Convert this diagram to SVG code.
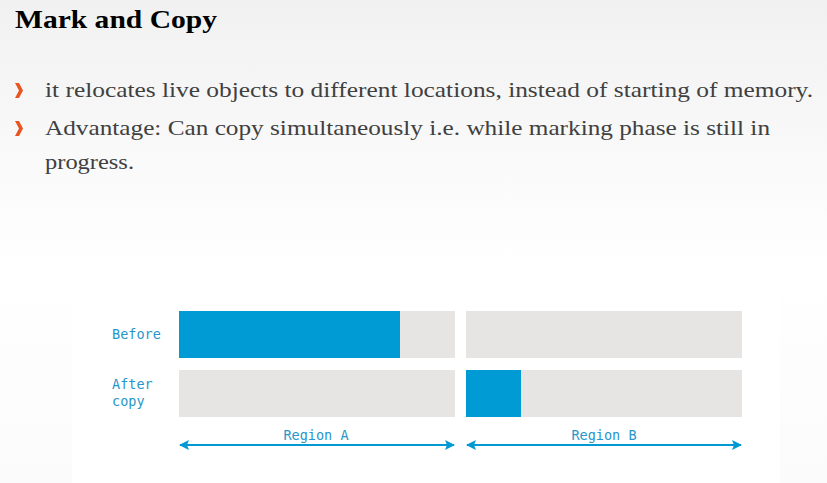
<svg xmlns="http://www.w3.org/2000/svg" width="827" height="483" viewBox="0 0 827 483">
<defs>
<linearGradient id="bg" x1="0" y1="0" x2="0" y2="1">
<stop offset="0" stop-color="#f1f1f1"/>
<stop offset="0.55" stop-color="#ffffff"/>
<stop offset="1" stop-color="#fbfbfb"/>
</linearGradient>
<marker id="ah" viewBox="0 0 10 10" refX="9" refY="5" markerWidth="10" markerHeight="10" markerUnits="userSpaceOnUse" orient="auto-start-reverse">
<path d="M0,0 L10,5 L0,10 L2,5 Z" fill="#0099d3"/>
</marker>
<style>
.title{font-family:"Liberation Serif",serif;font-weight:bold;font-size:26px;fill:#000}
.body{font-family:"Liberation Serif",serif;font-size:22px;fill:#404040}
.lbl{font-family:"DejaVu Sans Mono",monospace;font-size:13.5px;fill:#2796cc}
.gray{fill:#e6e5e4}
.blue{fill:#009bd4}
.arr{stroke:#0099d3;stroke-width:2;fill:none;marker-start:url(#ah);marker-end:url(#ah)}
.bul{fill:#ea5420}
</style>
</defs>
<rect width="827" height="483" fill="url(#bg)"/>
<rect x="72" y="265" width="708" height="218" fill="#ffffff"/>
<text class="title" x="15" y="28" textLength="202" lengthAdjust="spacingAndGlyphs">Mark and Copy</text>
<polygon class="bul" points="15,83 19,83 23,90.5 19,98 15,98 19,90.5"/>
<text class="body" x="45" y="97" textLength="768" lengthAdjust="spacingAndGlyphs">it relocates live objects to different locations, instead of starting of memory.</text>
<polygon class="bul" points="15,121 19,121 23,128.5 19,136 15,136 19,128.5"/>
<text class="body" x="45" y="135" textLength="725" lengthAdjust="spacingAndGlyphs">Advantage: Can copy simultaneously i.e. while marking phase is still in</text>
<text class="body" x="45" y="169" textLength="89" lengthAdjust="spacingAndGlyphs">progress.</text>
<g id="before">
<text class="lbl" x="112" y="339">Before</text>
<rect class="gray" x="179" y="311" width="276" height="47"/>
<rect class="blue" x="179" y="311" width="221" height="47"/>
<rect class="gray" x="466" y="311" width="276" height="47"/>
</g>
<g id="after">
<text class="lbl" x="112" y="389">After</text>
<text class="lbl" x="112" y="406">copy</text>
<rect class="gray" x="179" y="370" width="276" height="47"/>
<rect class="gray" x="466" y="370" width="276" height="47"/>
<rect class="blue" x="466" y="370" width="55" height="47"/>
</g>
<g id="connectors">
<line class="arr" x1="180" y1="445" x2="454" y2="445"/>
<line class="arr" x1="467" y1="445" x2="741" y2="445"/>
</g>
<g id="regionA"><text class="lbl" x="316" y="440" text-anchor="middle">Region A</text></g>
<g id="regionB"><text class="lbl" x="604" y="440" text-anchor="middle">Region B</text></g>
</svg>
